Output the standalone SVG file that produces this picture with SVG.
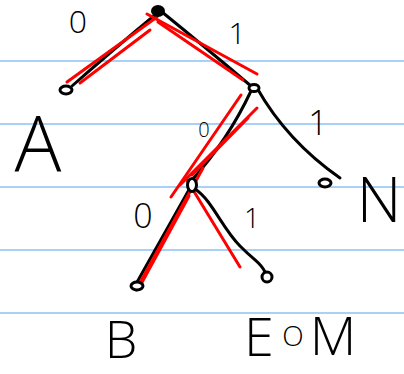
<svg xmlns="http://www.w3.org/2000/svg" width="404" height="374" viewBox="0 0 404 374">
<style>
.rule{stroke:#a9d1f7;stroke-width:2}
.edge{fill:none;stroke:#000;stroke-width:3;stroke-linecap:round;stroke-linejoin:round}
.strike{fill:none;stroke:#ff0000;stroke-width:3;stroke-linecap:round}
.node{fill:#fff;stroke:#000;stroke-width:3}
.lbl{font-family:"Open Sans","Liberation Sans",sans-serif;font-weight:300;fill:#000;text-anchor:middle}
</style>
<rect width="404" height="374" fill="#fff"/>
<g id="rules">
<line class="rule" x1="0" y1="61" x2="404" y2="61"/>
<line class="rule" x1="0" y1="124" x2="404" y2="124"/>
<line class="rule" x1="0" y1="187" x2="404" y2="187"/>
<line class="rule" x1="0" y1="250" x2="404" y2="250"/>
<line class="rule" x1="0" y1="313" x2="404" y2="313"/>
</g>
<g id="connectors">
<path class="edge" d="M155,15 Q115,48 72,86"/>
<path class="edge" d="M162,12 Q205,47 251,86"/>
<path class="edge" d="M251,91 Q228,140 192,180"/>
<path class="edge" d="M257,88 Q287,141 340,178"/>
<path class="edge" d="M190,188 L136,284"/>
<path class="edge" d="M195,189 C212,200 222,228 240,246 S260,262 265,272"/>
</g>
<g id="strikes">
<line class="strike" x1="157" y1="17" x2="67" y2="82"/>
<line class="strike" x1="150" y1="30" x2="80" y2="83"/>
<line class="strike" x1="147" y1="14" x2="257" y2="74"/>
<line class="strike" x1="158" y1="22" x2="243" y2="80"/>
<line class="strike" x1="241" y1="95" x2="171" y2="197"/>
<line class="strike" x1="257" y1="108" x2="180" y2="185"/>
<line class="strike" x1="248" y1="118" x2="192" y2="175"/>
<line class="strike" x1="203" y1="168" x2="136" y2="290"/>
<line class="strike" x1="189" y1="196" x2="140" y2="286"/>
<line class="strike" x1="187" y1="180" x2="240" y2="267"/>
</g>
<g id="node-root"><ellipse cx="158" cy="11" rx="7" ry="6" fill="#000"/></g>
<g id="node-A"><ellipse class="node" cx="66" cy="90" rx="6" ry="4"/><text class="lbl" x="38" y="172" font-size="78">A</text></g>
<g id="node-R"><ellipse class="node" cx="254" cy="88" rx="5" ry="3.5"/></g>
<g id="node-N"><ellipse class="node" cx="325" cy="183" rx="6" ry="4"/><text class="lbl" x="379" y="222" font-size="62">N</text></g>
<g id="node-M"><ellipse class="node" cx="192" cy="185" rx="4.5" ry="6.5"/></g>
<g id="node-B"><ellipse class="node" cx="137" cy="286" rx="6" ry="4"/><text class="lbl" x="121" y="358" font-size="52">B</text></g>
<g id="node-EOM"><circle class="node" cx="267" cy="277" r="5"/><text class="lbl" y="356" font-size="54"><tspan x="259">E</tspan><tspan x="293" y="346" font-size="28">O</tspan><tspan x="333" y="355" font-size="54">M</tspan></text></g>
<g id="edge-labels">
<text class="lbl" x="78" y="33" font-size="32">0</text>
<text class="lbl" x="237" y="44" font-size="30">1</text>
<text class="lbl" x="204" y="137" font-size="20">0</text>
<text class="lbl" x="318" y="135" font-size="34">1</text>
<text class="lbl" x="143" y="228" font-size="34">0</text>
<text class="lbl" x="252" y="228" font-size="28">1</text>
</g>
</svg>
